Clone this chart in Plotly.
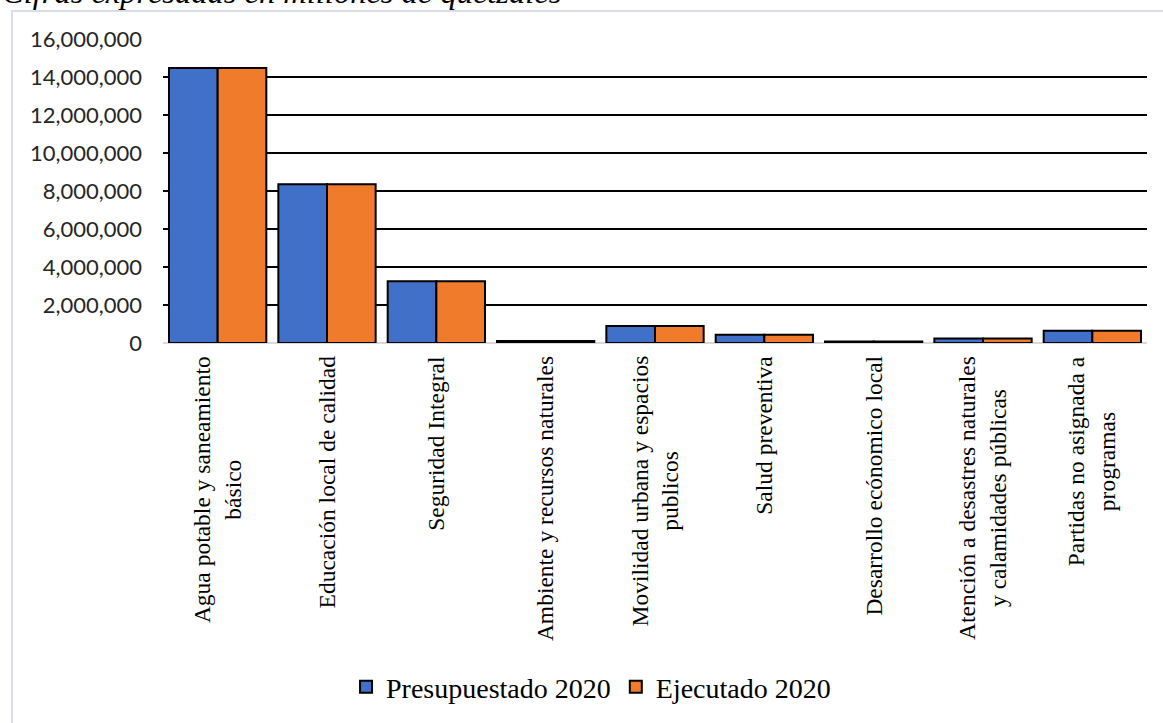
import plotly.graph_objects as go

categories = [
    "Agua potable y saneamiento<br>básico",
    "Educación local de calidad",
    "Seguridad Integral",
    "Ambiente y recursos naturales",
    "Movilidad urbana y espacios<br>publicos",
    "Salud preventiva",
    "Desarrollo ecónomico local",
    "Atención a desastres naturales<br>y calamidades públicas",
    "Partidas no asignada a<br>programas",
]
presupuestado = [14480000, 8350000, 3250000, 100000, 900000, 430000, 80000, 240000, 650000]
ejecutado = [14480000, 8350000, 3250000, 100000, 900000, 430000, 80000, 240000, 650000]
y_ticks = [0, 2000000, 4000000, 6000000, 8000000, 10000000, 12000000, 14000000, 16000000]

serif = "Liberation Serif"

fig = go.Figure()
fig.add_trace(go.Bar(
    x=list(range(len(categories))), y=presupuestado, name="Presupuestado 2020",
    marker=dict(color="#4070C8", line=dict(color="black", width=2)),
))
fig.add_trace(go.Bar(
    x=list(range(len(categories))), y=ejecutado, name="Ejecutado 2020",
    marker=dict(color="#F07B2A", line=dict(color="black", width=2)),
))

label_annotations = [
    dict(text=cat, xref="x", yref="paper", x=i, y=-0.036, xanchor="center", yanchor="top",
         textangle=-90, align="center", showarrow=False,
         font=dict(family=serif, size=23.5, color="black"))
    for i, cat in enumerate(categories)
]

fig.update_layout(
    width=1163, height=723,
    margin=dict(l=163, r=16, t=39, b=379),
    paper_bgcolor="white", plot_bgcolor="white",
    barmode="group", bargap=0.11, bargroupgap=0,
    showlegend=True,
    legend=dict(orientation="h", x=0.435, xanchor="center", y=-1.125, yanchor="middle",
                font=dict(family=serif, size=28, color="black"), itemwidth=30,
                traceorder="normal"),
    xaxis=dict(
        type="linear", range=[-0.5, len(categories) - 0.5],
        showticklabels=False, showgrid=False, showline=False, ticks="", zeroline=False,
    ),
    yaxis=dict(
        range=[0, 16000000], tickvals=y_ticks, tickformat=",d",
        tickfont=dict(family="Lato", size=22, color="#262626"),
        showgrid=True, gridcolor="black", gridwidth=2,
        zeroline=True, zerolinecolor="#D9D9D9", zerolinewidth=2,
        showline=False, ticks="", ticklabelstandoff=20,
    ),
    shapes=[dict(type="rect", xref="paper", yref="paper",
                 x0=-0.1535, x1=1.05, y0=-1.3, y1=1.0918,
                 line=dict(color="#D9DEE6", width=2), fillcolor="rgba(0,0,0,0)", layer="below")],
    annotations=[dict(text="<i>Cifras expresadas en millones de quetzales</i>",
                      xref="paper", yref="paper", x=-0.166, xanchor="left",
                      y=1.156, yanchor="middle", showarrow=False,
                      font=dict(family=serif, size=32.5, color="black"))] + label_annotations,
)

fig.write_html("out.html")
